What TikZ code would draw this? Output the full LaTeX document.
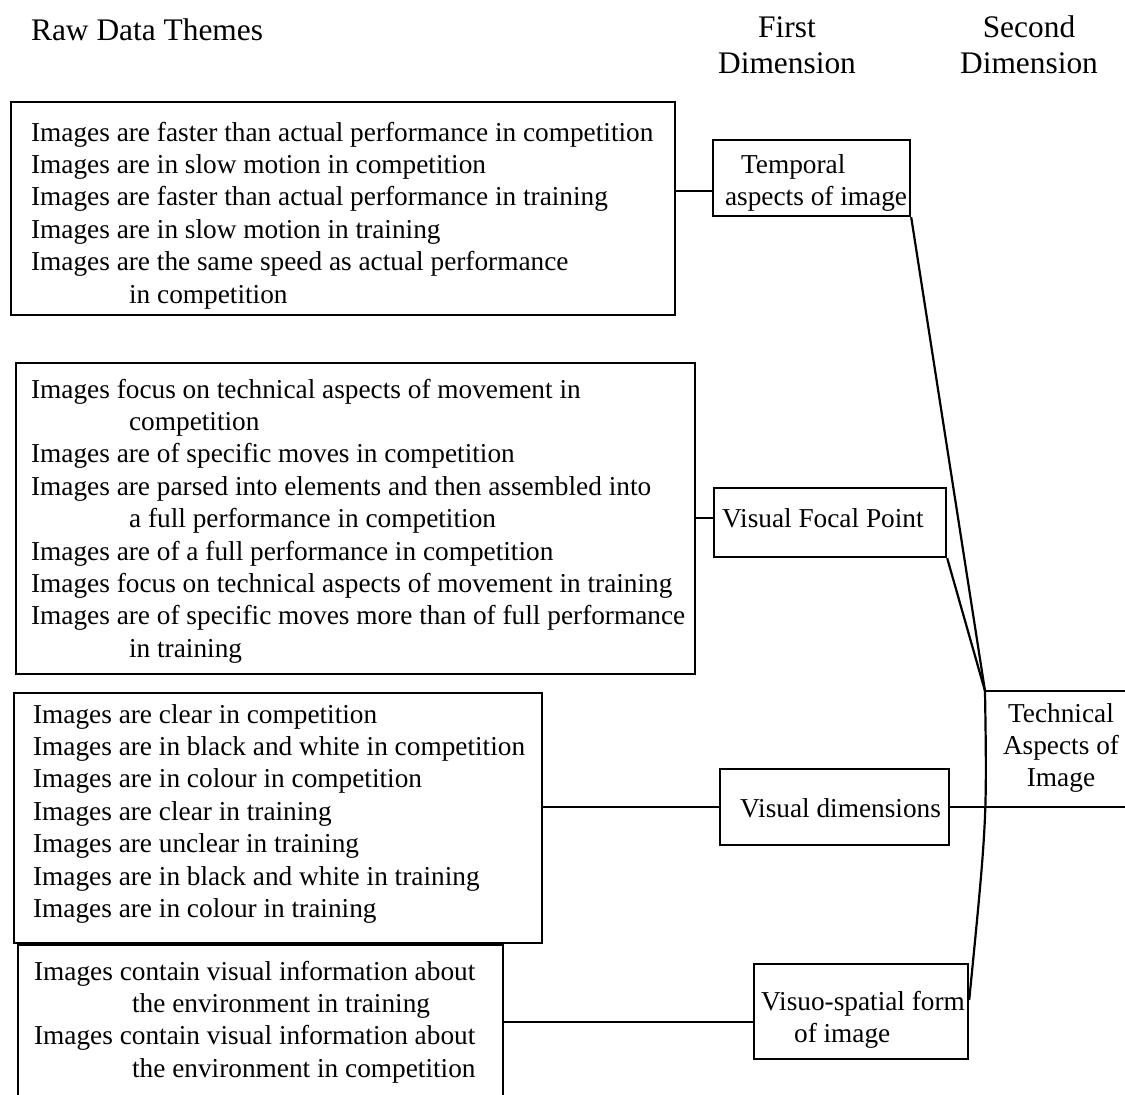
\documentclass[tikz,border=0pt]{standalone}
\usepackage{fontspec}
\setmainfont{Liberation Serif}
\usetikzlibrary{calc}

% type sizes: theme lists and column headings
\newcommand\bodytext{\fontsize{27.3}{32.4}\selectfont}
\newcommand\headtext{\fontsize{31.4}{36}\selectfont}
% stacked lines, left- or centre-aligned, baseline on the first line
\newcommand\themelines[1]{\begin{tabular}[t]{@{}l@{}}#1\end{tabular}}
\newcommand\ctrlines[1]{\begin{tabular}[t]{@{}c@{}}#1\end{tabular}}
\newcommand\ind{\hspace*{98pt}}

\begin{document}
\begin{tikzpicture}[
  x=1pt, y=-1pt, line width=2.2pt,
  framebox/.style={draw, inner sep=0pt, anchor=north west},
  txt/.style={inner sep=0pt, anchor=base west, font=\bodytext},
  head/.style={inner sep=0pt, anchor=base, font=\headtext},
]
\useasboundingbox (0,0) rectangle (1125,1095);
\clip (0,0) rectangle (1125,1095);

% column headings
\node[head, anchor=base west] (hraw) at (30,40) {Raw Data Themes};
\node[head] (hfirst) at (787,37) {\ctrlines{First\\Dimension}};
\node[head] (hsecond) at (1029,37) {\ctrlines{Second\\Dimension}};

% raw data theme boxes
\node[framebox, minimum width=664, minimum height=213] (r1) at (10,101) {};
\node[txt] (r1t) at (30,141) {\themelines{%
  Images are faster than actual performance in competition\\
  Images are in slow motion in competition\\
  Images are faster than actual performance in training\\
  Images are in slow motion in training\\
  Images are the same speed as actual performance\\
  \ind in competition}};

\node[framebox, minimum width=679, minimum height=311] (r2) at (15,362) {};
\node[txt] (r2t) at (30,398) {\themelines{%
  Images focus on technical aspects of movement in\\
  \ind competition\\
  Images are of specific moves in competition\\
  Images are parsed into elements and then assembled into\\
  \ind a full performance in competition\\
  Images are of a full performance in competition\\
  Images focus on technical aspects of movement in training\\
  Images are of specific moves more than of full performance\\
  \ind in training}};

\node[framebox, minimum width=528, minimum height=250] (r3) at (13,692) {};
\node[txt] (r3t) at (32,723) {\themelines{%
  Images are clear in competition\\
  Images are in black and white in competition\\
  Images are in colour in competition\\
  Images are clear in training\\
  Images are unclear in training\\
  Images are in black and white in training\\
  Images are in colour in training}};

\node[framebox, minimum width=485, minimum height=200] (r4) at (17,944) {};
\node[txt] (r4t) at (33,980) {\themelines{%
  Images contain visual information about\\
  \ind the environment in training\\
  Images contain visual information about\\
  \ind the environment in competition}};

% first dimension boxes
\node[framebox, minimum width=197, minimum height=76] (tmp) at (712,139) {};
\node[txt] (tmpt) at (724,173) {\themelines{\hspace*{16pt}Temporal\\aspects of image}};

\node[framebox, minimum width=232, minimum height=69] (vfp) at (713,487) {};
\node[txt] (vfpt) at (721,527) {Visual Focal Point};

\node[framebox, minimum width=229, minimum height=76] (vdim) at (719,768) {};
\node[txt] (vdimt) at (739,817) {Visual dimensions};

\node[framebox, minimum width=214, minimum height=95] (vis) at (753,963) {};
\node[txt] (vist) at (760,1010) {\themelines{Visuo-spatial form\\\hspace*{33pt}of image}};

% second dimension
\node[txt, anchor=base] (tech) at (1061,722) {\ctrlines{Technical\\Aspects of\\Image}};
\coordinate (tk) at (985,691);
\coordinate (tkr) at (1130,691);

% connectors: raw themes to first dimension
\coordinate (c1) at ($(tmp.north west)!0.67!(tmp.south west)$);
\draw (c1) -- (c1 -| r1.east);
\coordinate (c2) at ($(vfp.north west)!0.43!(vfp.south west)$);
\draw (c2) -- (c2 -| r2.east);
\draw (vdim.west) -- (vdim.west -| r3.east);
\coordinate (c4) at ($(vis.north west)!0.61!(vis.south west)$);
\draw (c4) -- (c4 -| r4.east);

% connectors: first dimension to second dimension
\draw (tmp.south east) -- (tk);
\draw (vfp.south east) -- (tk);
\draw (tk) -- (tkr);
\draw (vdim.east) -- (vdim.east -| tkr);
\coordinate (c5) at ($(vis.north east)!0.38!(vis.south east)$);
\draw (tk) .. controls (987,820) .. (c5);
\end{tikzpicture}
\end{document}
